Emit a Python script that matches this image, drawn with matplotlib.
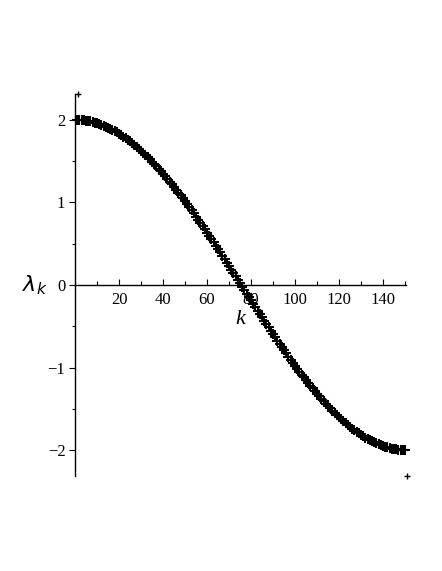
import matplotlib
matplotlib.use("Agg")
import matplotlib.pyplot as plt
from matplotlib.ticker import MultipleLocator, FixedLocator

# eigenvalues lambda_k for k = 1..150
k_vals = list(range(1, 151))
lam_first_half = [
    2.000, 1.998, 1.996, 1.993, 1.989, 1.984, 1.979, 1.972, 1.965, 1.957,
    1.948, 1.938, 1.927, 1.916, 1.903, 1.890, 1.876, 1.861, 1.846, 1.829,
    1.812, 1.794, 1.775, 1.756, 1.736, 1.715, 1.693, 1.670, 1.647, 1.623,
    1.598, 1.573, 1.547, 1.520, 1.493, 1.465, 1.436, 1.407, 1.377, 1.346,
    1.315, 1.283, 1.251, 1.218, 1.185, 1.151, 1.117, 1.083, 1.048, 1.012,
    0.976, 0.939, 0.902, 0.865, 0.827, 0.789, 0.751, 0.712, 0.673, 0.634,
    0.594, 0.554, 0.514, 0.474, 0.433, 0.393, 0.352, 0.311, 0.270, 0.228,
    0.187, 0.146, 0.104, 0.062, 0.021,
]
lam_second_half = [
    -0.021, -0.062, -0.104, -0.146, -0.187, -0.228, -0.270, -0.311, -0.352, -0.393,
    -0.433, -0.474, -0.514, -0.554, -0.594, -0.634, -0.673, -0.712, -0.751, -0.789,
    -0.827, -0.865, -0.902, -0.939, -0.976, -1.012, -1.048, -1.083, -1.117, -1.151,
    -1.185, -1.218, -1.251, -1.283, -1.315, -1.346, -1.377, -1.407, -1.436, -1.465,
    -1.493, -1.520, -1.547, -1.573, -1.598, -1.623, -1.647, -1.670, -1.693, -1.715,
    -1.736, -1.756, -1.775, -1.794, -1.812, -1.829, -1.846, -1.861, -1.876, -1.890,
    -1.903, -1.916, -1.927, -1.938, -1.948, -1.957, -1.965, -1.972, -1.979, -1.984,
    -1.989, -1.993, -1.996, -1.998, -2.000,
]
lam_vals = lam_first_half + lam_second_half

# two stray corner points drawn by the original plot
corner_k = [1.4, 150.9]
corner_y = [2.31, -2.31]

x_ticks = [20, 40, 60, 80, 100, 120, 140]
y_ticks = [-2, -1, 0, 1, 2]
y_labels = ["\u22122", "\u22121", "0", "1", "2"]

plt.rcParams['font.family'] = ['Liberation Serif', 'DejaVu Serif']

fig = plt.figure(figsize=(4.42, 5.71), dpi=100)
ax = fig.add_axes([0.1697, 0.1664, 0.749, 0.669])

ax.plot(k_vals, lam_vals, linestyle='none', marker='+', color='black',
        markersize=6.5, markeredgewidth=1.5, clip_on=False)
ax.plot(corner_k, corner_y, linestyle='none', marker='+', color='black',
        markersize=5, markeredgewidth=1.0, clip_on=False)

ax.set_xlim(0, 150.5)
ax.set_ylim(-2.31, 2.31)

ax.spines['top'].set_visible(False)
ax.spines['right'].set_visible(False)
ax.spines['bottom'].set_position(('data', 0))
ax.spines['left'].set_linewidth(1.0)
ax.spines['bottom'].set_linewidth(1.0)

ax.xaxis.set_major_locator(FixedLocator(x_ticks))
ax.xaxis.set_minor_locator(MultipleLocator(10))
ax.yaxis.set_major_locator(FixedLocator(y_ticks))
ax.set_yticklabels(y_labels)
ax.yaxis.set_minor_locator(MultipleLocator(0.5))

ax.tick_params(axis='x', which='major', direction='in', length=4, width=0.8,
               labelsize=12, pad=5)
ax.tick_params(axis='x', which='minor', direction='in', length=3, width=0.8)
ax.tick_params(axis='y', which='major', direction='out', length=4, width=0.8,
               labelsize=12, pad=3)
ax.tick_params(axis='y', which='minor', direction='out', length=2.5, width=0.8)

ax.text(-0.12, 0.0, r'$\lambda_k$', transform=ax.get_yaxis_transform(),
        fontsize=16, ha='center', va='center', family='DejaVu Sans')
ax.text(75, -0.42, 'k', fontsize=16, style='italic', ha='center', va='center')

fig.savefig('out.png', dpi=100)
